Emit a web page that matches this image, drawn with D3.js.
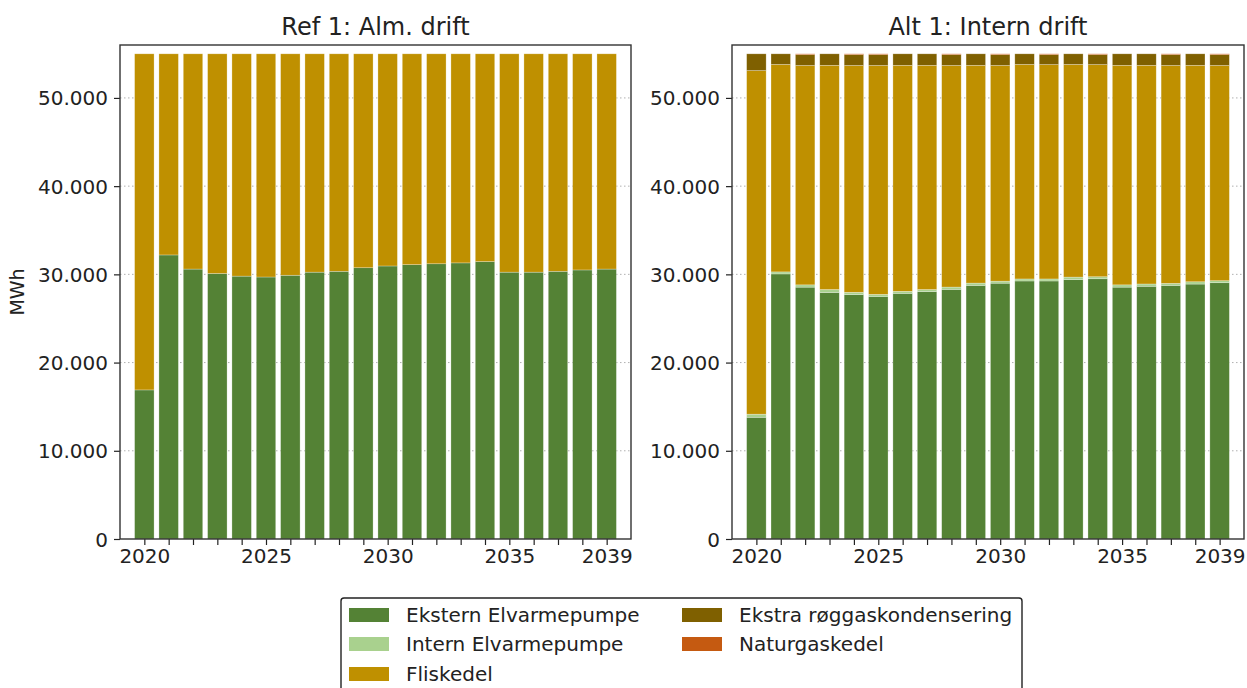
<!DOCTYPE html>
<html><head><meta charset="utf-8">
<script src="https://cdn.jsdelivr.net/npm/d3@7"></script>
<style>
html,body{margin:0;padding:0;background:#fff;}
svg{display:block;font-family:"DejaVu Sans",sans-serif;}
</style></head>
<body><svg id="c" width="1247" height="688"></svg>
<script>
const years = d3.range(2020, 2040);
const xTickLabels = [2020, 2025, 2030, 2035, 2039];
const yTicks = [0, 10000, 20000, 30000, 40000, 50000];
const seriesNames = ["Ekstern Elvarmepumpe", "Intern Elvarmepumpe", "Fliskedel", "Ekstra røggaskondensering", "Naturgaskedel"];
const seriesColors = ["#548235", "#A9D18E", "#BF9000", "#7F6000", "#C55A11"];
const titles = ["Ref 1: Alm. drift", "Alt 1: Intern drift"];

// Ref 1
const refEkstern = [16900, 32200, 30600, 30100, 29800, 29700, 29900, 30250, 30350, 30750, 30950, 31100, 31200, 31300, 31450, 30250, 30250, 30350, 30500, 30600];
const refIntern  = [0,0,0,0,0,0,0,0,0,0,0,0,0,0,0,0,0,0,0,0];
const refFlis    = [38100, 22800, 24400, 24900, 25200, 25300, 25100, 24750, 24650, 24250, 24050, 23900, 23800, 23700, 23550, 24750, 24750, 24650, 24500, 24400];
const refEkstra  = [0,0,0,0,0,0,0,0,0,0,0,0,0,0,0,0,0,0,0,0];
const refNatgas  = [0,0,0,0,0,0,0,0,0,0,0,0,0,0,0,0,0,0,0,0];

// Alt 1
const altEkstern = [13800, 30050, 28550, 27950, 27700, 27500, 27850, 28050, 28300, 28750, 29000, 29250, 29250, 29400, 29500, 28550, 28650, 28750, 28900, 29050];
const altIntern  = [350, 230, 260, 330, 270, 230, 230, 230, 260, 260, 230, 230, 230, 290, 230, 260, 260, 230, 260, 230];
const altFlis    = [38950, 23520, 24870, 25420, 25710, 25950, 25620, 25420, 25120, 24690, 24450, 24320, 24300, 24110, 24050, 24890, 24790, 24700, 24540, 24400];
const altEkstra  = [1900, 1200, 1220, 1300, 1220, 1220, 1300, 1300, 1220, 1300, 1220, 1200, 1120, 1200, 1120, 1300, 1300, 1220, 1300, 1220];
const altNatgas  = [0, 0, 100, 0, 100, 100, 0, 0, 100, 0, 100, 0, 100, 0, 100, 0, 0, 100, 0, 100];

const panels = [
  {title: titles[0], series: [refEkstern, refIntern, refFlis, refEkstra, refNatgas], x0: 120, x1: 631, ylabel: true},
  {title: titles[1], series: [altEkstern, altIntern, altFlis, altEkstra, altNatgas], x0: 732, x1: 1244, ylabel: false}
];

const svg = d3.select("#c");
const yTop = 45, yBottom = 539;
const fmt = d3.formatLocale({decimal: ",", thousands: ".", grouping: [3], currency: ["", ""]}).format(",d");
const FS = 20;

panels.forEach(p => {
  const x = d3.scaleLinear().domain([2019, 2040]).range([p.x0, p.x1]);
  const y = d3.scaleLinear().domain([0, 56000]).range([yBottom, yTop]);
  const g = svg.append("g");

  // grid
  g.append("g").selectAll("line").data(yTicks.filter(v => v > 0)).join("line")
    .attr("x1", p.x0).attr("x2", p.x1)
    .attr("y1", d => y(d)).attr("y2", d => y(d))
    .attr("stroke", "#b0b0b0").attr("stroke-width", 1).attr("stroke-dasharray", "1.5,2.5");

  const rows = years.map((yr, i) => {
    const o = {year: yr};
    seriesNames.forEach((n, k) => o[n] = p.series[k][i]);
    return o;
  });
  const stacked = d3.stack().keys(seriesNames)(rows);
  const bw = x(2020.8) - x(2020);
  stacked.forEach((s, k) => {
    g.append("g").selectAll("rect").data(s.filter(d => d[1] - d[0] > 0)).join("rect")
      .attr("x", d => x(d.data.year) - bw / 2)
      .attr("width", bw)
      .attr("y", d => y(d[1]))
      .attr("height", d => y(d[0]) - y(d[1]))
      .attr("fill", seriesColors[k])
      .attr("stroke", "#ffffff").attr("stroke-opacity", 0.45).attr("stroke-width", 0.6);
  });

  // axes
  const ax = g.append("g").attr("transform", `translate(0,${yBottom})`)
    .call(d3.axisBottom(x).tickValues(years).tickSize(6).tickPadding(4)
      .tickFormat(d => xTickLabels.includes(d) ? String(d) : ""));
  const ay = g.append("g").attr("transform", `translate(${p.x0},0)`)
    .call(d3.axisLeft(y).tickValues(yTicks).tickSize(6).tickPadding(6).tickFormat(d => fmt(d)));
  [ax, ay].forEach(a => {
    a.select(".domain").remove();
    a.selectAll(".tick line").attr("stroke", "#222").attr("stroke-width", 1.2);
    a.selectAll(".tick text").attr("fill", "#222").attr("font-size", FS).attr("font-family", "DejaVu Sans");
  });
  ay.selectAll(".tick text").attr("dy", "0.35em");

  // frame
  g.append("rect").attr("x", p.x0).attr("y", yTop).attr("width", p.x1 - p.x0).attr("height", yBottom - yTop)
    .attr("fill", "none").attr("stroke", "#333").attr("stroke-width", 1.4);

  g.append("text").attr("x", (p.x0 + p.x1) / 2).attr("y", 35).attr("text-anchor", "middle")
    .attr("font-size", 24).attr("fill", "#222").text(p.title);

  if (p.ylabel) {
    g.append("text").attr("transform", `translate(24,${(yTop + yBottom) / 2}) rotate(-90)`)
      .attr("text-anchor", "middle").attr("font-size", 19).attr("fill", "#222").text("MWh");
  }
});

// legend
const lg = svg.append("g");
lg.append("rect").attr("x", 341).attr("y", 598).attr("width", 681).attr("height", 110).attr("rx", 3)
  .attr("fill", "#fff").attr("stroke", "#222").attr("stroke-width", 1.4);
const legendPos = [[349, 615], [349, 644], [349, 674], [682, 615], [682, 644]];
seriesNames.forEach((n, k) => {
  const [lx, ly] = legendPos[k];
  lg.append("rect").attr("x", lx).attr("y", ly - 7).attr("width", 40).attr("height", 14).attr("fill", seriesColors[k]);
  lg.append("text").attr("x", lx + 57).attr("y", ly).attr("dy", "0.35em").attr("font-size", FS).attr("fill", "#222").text(n);
});
</script>
</body></html>
